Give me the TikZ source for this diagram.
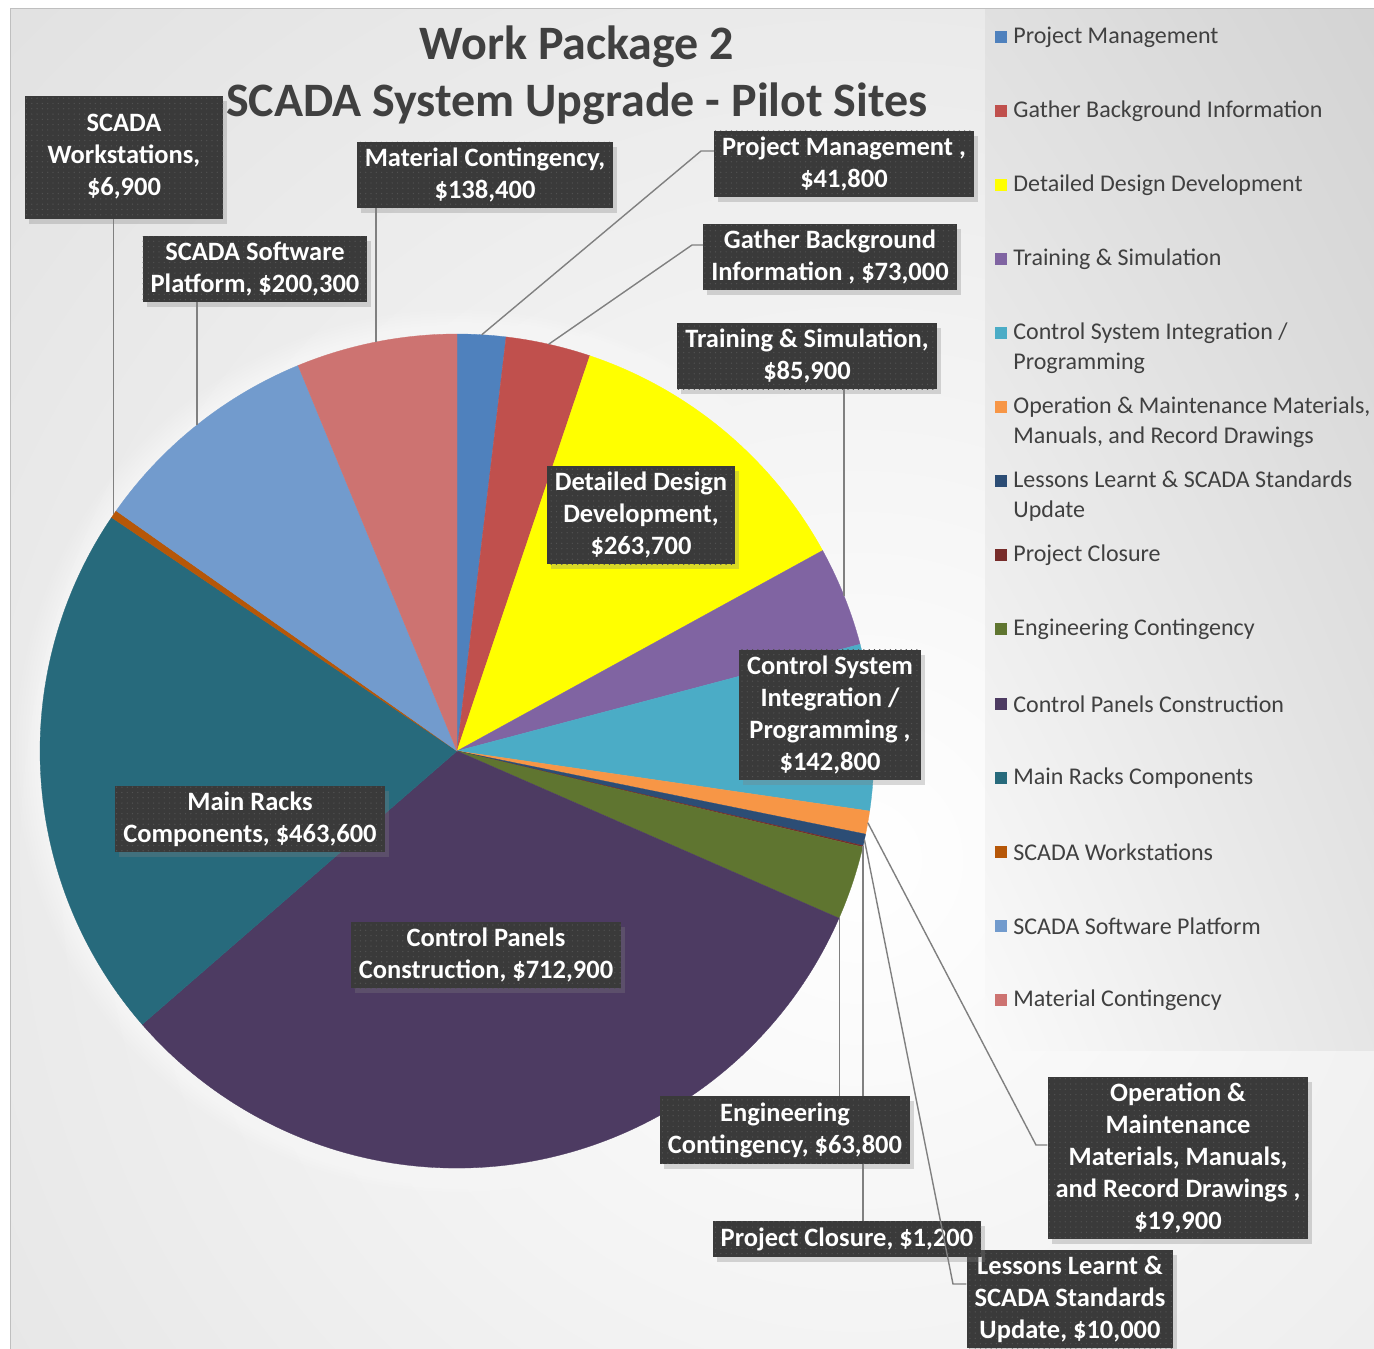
\documentclass[tikz,border=0pt]{standalone}
\usepackage{fontspec}
\setmainfont{Carlito}
\usetikzlibrary{positioning,shadows,shadings,patterns.meta}
\definecolor{pm_blue}{RGB}{79,129,189}
\definecolor{gbi_red}{RGB}{192,80,77}
\definecolor{ddd_yellow}{RGB}{255,255,0}
\definecolor{ts_purple}{RGB}{128,100,162}
\definecolor{csi_aqua}{RGB}{75,172,198}
\definecolor{om_orange}{RGB}{247,150,70}
\definecolor{ll_navy}{RGB}{44,77,117}
\definecolor{pc_maroon}{RGB}{119,44,42}
\definecolor{ec_olive}{RGB}{95,117,48}
\definecolor{cpc_plum}{RGB}{77,59,98}
\definecolor{mrc_teal}{RGB}{39,106,124}
\definecolor{sw_rust}{RGB}{182,87,8}
\definecolor{ssp_blue}{RGB}{114,155,205}
\definecolor{mc_rose}{RGB}{205,115,113}
\definecolor{box_gray}{RGB}{58,58,58}
\definecolor{dot_gray}{RGB}{82,82,82}
\definecolor{text_gray}{RGB}{64,64,64}
\definecolor{leader_gray}{RGB}{128,128,128}

\tikzset{
	databox/.style={fill=box_gray,text=white,align=center,inner xsep=8pt,inner ysep=6pt,
		font=\fontsize{26.5}{32}\selectfont\bfseries,
		drop shadow={shadow xshift=4pt,shadow yshift=-5pt,opacity=0.3},
		postaction={pattern={Dots[distance=5.3pt,radius=0.7pt]},pattern color=dot_gray}},
	leader/.style={draw=leader_gray,line width=1.4pt},
	legkey/.style={minimum size=12pt,inner sep=0pt},
	legtext/.style={text=text_gray,align=left,inner sep=0pt,font=\fontsize{24}{30}\selectfont}
}

\begin{document}
\begin{tikzpicture}[x=1pt,y=1pt]
	\useasboundingbox (0,0) rectangle (1374,-1349);
	% chart area
	\fill[black!22] (10,-8) rectangle (1374,-1349);
	\begin{scope}
		\clip (10,-8) rectangle (1374,-1349);
		\shade[inner color=white,outer color=black!22] (860,-860) circle[radius=2300];
	\end{scope}
	\draw[black!25,line width=1pt] (10,-1349) -- (10,-8) -- (1374,-8);
	\shade[upper left=black!12,upper right=black!17,lower left=black!2,lower right=black!10] (985,-9) rectangle (1374,-1050);

	% pie
	\coordinate (c) at (457,-751);
	\foreach \r in {3,6,...,24}
		\fill[white,opacity=0.09] (c) circle[radius=417+\r];
	\foreach \a/\b/\col in {90/83.234/pm_blue,83.234/71.419/gbi_red,71.419/28.738/ddd_yellow,
		28.738/14.835/ts_purple,14.835/-8.278/csi_aqua,-8.278/-11.499/om_orange,
		-11.499/-13.118/ll_navy,-13.118/-13.312/pc_maroon,-13.312/-23.638/ec_olive,
		-23.638/-139.024/cpc_plum,-139.024/-214.06/mrc_teal,-214.06/-215.177/sw_rust,
		-215.177/-247.597/ssp_blue,-247.597/-270/mc_rose}
		\fill[\col,draw=\col,line width=0.3pt] (c) -- ++(\a:417) arc[start angle=\a,end angle=\b,radius=417] -- cycle;

	% leader ends on the pie
	\path (c) ++(86.6:417) coordinate (pPM);
	\path (c) ++(77.3:417) coordinate (pGBI);
	\path (c) ++(21.8:417) coordinate (pTS);
	\path (c) ++(-9.9:417) coordinate (pOM);
	\path (c) ++(-12.3:417) coordinate (pLL);
	\path (c) ++(-13.2:417) coordinate (pPC);
	\path (c) ++(-23.4:417) coordinate (pEC);
	\path (c) ++(145.4:417) coordinate (pSW);
	\path (c) ++(128.6:417) coordinate (pSSP);
	\path (c) ++(101.2:417) coordinate (pMC);
	\coordinate (kPM) at (701,-151);
	\coordinate (kGBI) at (692,-245);
	\coordinate (kOM) at (1036,-1145);
	\coordinate (kLL) at (953,-1284);

	% data labels outside the pie
	\node[databox] (lPM) at (844,-164) {Project Management ,\\\$41,800};
	\node[databox] (lGBI) at (830,-257) {Gather Background\\Information , \$73,000};
	\node[databox] (lTS) at (807,-356) {Training \& Simulation,\\\$85,900};
	\node[databox] (lMC) at (485,-175) {Material Contingency,\\\$138,400};
	\node[databox] (lSSP) at (255,-269) {SCADA Software\\Platform, \$200,300};
	\node[databox,minimum width=198pt,minimum height=123pt] (lSW) at (124,-157) {SCADA\\Workstations,\\\$6,900};
	\node[databox] (lEC) at (785,-1130) {Engineering\\Contingency, \$63,800};
	\node[databox] (lLL) at (1070,-1299) {Lessons Learnt \&\\SCADA Standards\\Update, \$10,000};
	\node[databox] (lPC) at (847,-1239) {Project Closure, \$1,200};
	\node[databox] (lOM) at (1178,-1158) {Operation \&\\Maintenance\\Materials, Manuals,\\and Record Drawings ,\\\$19,900};

	\draw[leader] (pPM) -- (kPM) -- (kPM -| lPM.west);
	\draw[leader] (pGBI) -- (kGBI) -- (kGBI -| lGBI.west);
	\draw[leader] (pTS) -- (pTS |- lTS.south);
	\draw[leader] (pMC) -- (pMC |- lMC.south);
	\draw[leader] (pSSP) -- (pSSP |- lSSP.south);
	\draw[leader] (pSW) -- (pSW |- lSW.south);
	\draw[leader] (pEC) -- (pEC |- lEC.north);
	\draw[leader] (pOM) -- (kOM) -- (kOM -| lOM.west);
	\draw[leader] (pLL) -- (kLL) -- (kLL -| lLL.west);
	\draw[leader] (pPC) -- (pPC |- lEC.north);
	\draw[leader] (pPC |- lEC.south) -- (pPC |- lPC.north);

	% data labels inside the pie
	\node[databox] (lDDD) at (641,-515) {Detailed Design\\Development,\\\$263,700};
	\node[databox] (lCSI) at (830,-715) {Control System\\Integration /\\Programming ,\\\$142,800};
	\node[databox] (lMRC) at (250,-819) {Main Racks\\Components, \$463,600};
	\node[databox] (lCPC) at (486,-955) {Control Panels\\Construction, \$712,900};

	% title
	\node[text=text_gray,align=center,font=\fontsize{48}{57}\selectfont\bfseries] (title) at (577,-75)
		{Work Package 2\\SCADA System Upgrade - Pilot Sites};

	% legend
	\foreach \n/\y/\dy/\col/\txt in {PM/37/0/pm_blue/{Project Management},
		GBI/111/0/gbi_red/{Gather Background Information},
		DDD/185/0/ddd_yellow/{Detailed Design Development},
		TS/259/0/ts_purple/{Training \& Simulation},
		CSI/333/-15/csi_aqua/{Control System Integration /\\Programming},
		OM/407/-15/om_orange/{Operation \& Maintenance Materials,\\Manuals, and Record Drawings},
		LL/481/-15/ll_navy/{Lessons Learnt \& SCADA Standards\\Update},
		PC/555/0/pc_maroon/{Project Closure},
		EC/629/0/ec_olive/{Engineering Contingency},
		CPC/704/0/cpc_plum/{Control Panels Construction},
		MRC/778/0/mrc_teal/{Main Racks Components},
		SW/852/0/sw_rust/{SCADA Workstations},
		SSP/926/0/ssp_blue/{SCADA Software Platform},
		MC/1000/0/mc_rose/{Material Contingency}}
	{
		\node[legkey,fill=\col] (k\n) at (1001,-\y) {};
		\node[legtext,right=6pt of k\n,yshift=\dy] (t\n) {\txt};
	}
\end{tikzpicture}
\end{document}
